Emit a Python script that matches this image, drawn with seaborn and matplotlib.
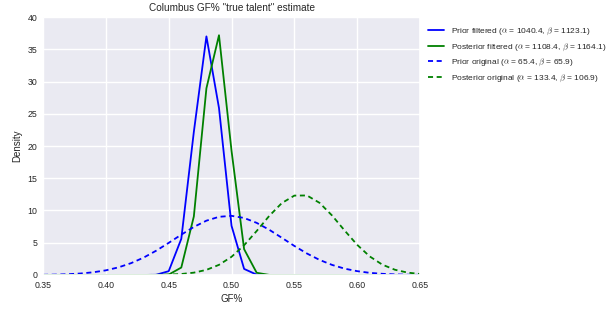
import numpy as np
import pandas as pd
import matplotlib
matplotlib.use("Agg")
import matplotlib.pyplot as plt
import seaborn as sns

# GF% grid (x values)
gf = [0.35, 0.36, 0.37, 0.38, 0.39, 0.40, 0.41, 0.42, 0.43, 0.44, 0.45,
      0.46, 0.47, 0.48, 0.49, 0.50, 0.51, 0.52, 0.53, 0.54, 0.55,
      0.56, 0.57, 0.58, 0.59, 0.60, 0.61, 0.62, 0.63, 0.64, 0.65]

prior_filtered = [0, 0, 0, 0, 0, 0, 0, 0, 0, 0.03, 0.59,
                  5.60, 22.2, 37.0, 25.9, 7.62, 0.94, 0.05, 0, 0, 0,
                  0, 0, 0, 0, 0, 0, 0, 0, 0, 0]
posterior_filtered = [0, 0, 0, 0, 0, 0, 0, 0, 0, 0, 0.06,
                      1.15, 9.08, 28.95, 37.18, 19.24, 4.00, 0.34, 0.01, 0, 0,
                      0, 0, 0, 0, 0, 0, 0, 0, 0, 0]
prior_original = [0.03, 0.06, 0.12, 0.23, 0.42, 0.72, 1.18, 1.83, 2.69, 3.76, 4.98,
                  6.25, 7.45, 8.42, 9.02, 9.17, 8.84, 8.08, 7.01, 5.77, 4.50,
                  3.33, 2.34, 1.56, 0.98, 0.59, 0.33, 0.18, 0.09, 0.045, 0.02]
posterior_original = [0, 0, 0, 0, 0, 0.0001, 0.0004, 0.002, 0.006, 0.019, 0.056,
                      0.15, 0.36, 0.79, 1.57, 2.82, 4.61, 6.82, 9.16, 11.15, 12.31,
                      12.33, 11.19, 9.22, 6.89, 4.67, 2.87, 1.60, 0.81, 0.37, 0.15]

labels = [r"Prior filtered ($\alpha$ = 1040.4, $\beta$ = 1123.1)",
          r"Posterior filtered ($\alpha$ = 1108.4, $\beta$ = 1164.1)",
          r"Prior original ($\alpha$ = 65.4, $\beta$ = 65.9)",
          r"Posterior original ($\alpha$ = 133.4, $\beta$ = 106.9)"]
series = [prior_filtered, posterior_filtered, prior_original, posterior_original]
colors = ["#0000ff", "#008000", "#0000ff", "#008000"]
styles = ["-", "-", (0, (2.8, 2.0)), (0, (2.8, 2.0))]

x_ticks = [0.35, 0.40, 0.45, 0.50, 0.55, 0.60, 0.65]
y_ticks = [0, 5, 10, 15, 20, 25, 30, 35, 40]

sns.set_theme(style="darkgrid")
plt.rcParams["font.family"] = ["Liberation Sans", "DejaVu Sans"]
plt.rcParams["mathtext.fontset"] = "cm"

fig = plt.figure(figsize=(6.15, 3.10), dpi=100)
ax = fig.add_axes([0.070, 0.113, 0.613, 0.832])

for vals, lab, c, ls in zip(series, labels, colors, styles):
    df = pd.DataFrame({"GF%": gf, "Density": vals})
    sns.lineplot(data=df, x="GF%", y="Density", ax=ax, color=c, linestyle=ls,
                 linewidth=1.3, label=lab)

ax.set_xlim(0.35, 0.65)
ax.set_ylim(0, 40)
ax.set_xticks(x_ticks)
ax.set_xticklabels([f"{t:.2f}" for t in x_ticks])
ax.set_yticks(y_ticks)
ax.tick_params(labelsize=6.3, colors="#262626", length=0, pad=4)
ax.set_xlabel("GF%", fontsize=7, color="#262626", labelpad=3)
ax.set_ylabel("Density", fontsize=7, color="#262626", labelpad=4)
ax.set_title('Columbus GF% "true talent" estimate', fontsize=7.2, color="#262626", pad=4)

leg = ax.legend(loc="upper left", bbox_to_anchor=(1.005, 0.99), frameon=False,
                fontsize=6, handlelength=1.9, handletextpad=0.9,
                labelspacing=0.55, borderaxespad=0.3)

fig.savefig("out.png", dpi=100)
